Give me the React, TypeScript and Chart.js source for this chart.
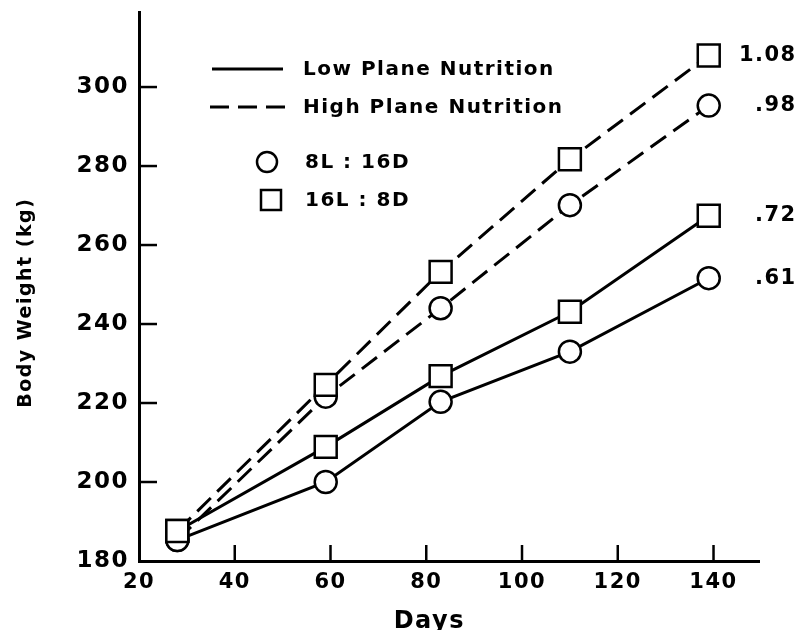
import React, { useEffect, useRef } from 'react';
import { Chart, registerables } from 'chart.js';

Chart.register(...registerables);

const FONT = '"DejaVu Sans", sans-serif';
const SPACING = '1.5px';

// Data
const days = [28, 59, 83, 110, 139];
const highLong = [187.6, 224.6, 253.2, 281.7, 308.0]; // High plane, 16L:8D
const highShort = [185.3, 221.6, 244.0, 270.1, 295.3]; // High plane, 8L:16D
const lowLong = [187.6, 208.9, 226.8, 243.1, 267.4]; // Low plane, 16L:8D
const lowShort = [185.3, 200.0, 220.3, 233.0, 251.6]; // Low plane, 8L:16D
const endLabels = ['1.08', '.98', '.72', '.61'];

const xTicks = [20, 40, 60, 80, 100, 120, 140];
const yTicks = [180, 200, 220, 240, 260, 280, 300];

const legendLines = ['Low Plane Nutrition', 'High Plane Nutrition'];
const legendMarkers = ['8L : 16D', '16L : 8D'];

const toPts = (vals: number[]) => vals.map((v, i) => ({ x: days[i], y: v }));

const spacingPlugin = {
  id: 'spacing',
  beforeDraw(chart: any) {
    chart.ctx.letterSpacing = SPACING;
  },
};

const inwardTicks = {
  id: 'inwardTicks',
  afterDraw(chart: any) {
    const { ctx, chartArea, scales } = chart;
    ctx.save();
    ctx.strokeStyle = '#000';
    ctx.lineWidth = 2.5;
    scales.y.ticks.forEach((t: any) => {
      if (t.value === scales.y.min) return;
      const y = scales.y.getPixelForValue(t.value);
      ctx.beginPath();
      ctx.moveTo(chartArea.left, y);
      ctx.lineTo(chartArea.left + 18, y);
      ctx.stroke();
    });
    scales.x.ticks.forEach((t: any) => {
      if (t.value === scales.x.min) return;
      const x = scales.x.getPixelForValue(t.value);
      ctx.beginPath();
      ctx.moveTo(x, chartArea.bottom);
      ctx.lineTo(x, chartArea.bottom - 16);
      ctx.stroke();
    });
    ctx.restore();
  },
};

const legendPlugin = {
  id: 'customLegend',
  afterDraw(chart: any) {
    const { ctx, chartArea } = chart;
    const L = chartArea.left;
    const T = chartArea.top;
    ctx.save();
    ctx.letterSpacing = SPACING;
    ctx.fillStyle = '#000';
    ctx.strokeStyle = '#000';
    ctx.font = `bold 20px ${FONT}`;
    ctx.textBaseline = 'middle';
    ctx.textAlign = 'left';
    // line samples
    ctx.lineWidth = 3;
    ctx.setLineDash([]);
    ctx.beginPath();
    ctx.moveTo(L + 73, T + 57);
    ctx.lineTo(L + 144, T + 57);
    ctx.stroke();
    ctx.setLineDash([19, 9]);
    ctx.beginPath();
    ctx.moveTo(L + 71, T + 95);
    ctx.lineTo(L + 146, T + 95);
    ctx.stroke();
    ctx.setLineDash([]);
    ctx.fillText(legendLines[0], L + 164, T + 58);
    ctx.fillText(legendLines[1], L + 164, T + 96);
    // marker samples
    ctx.lineWidth = 2.5;
    ctx.fillStyle = '#fff';
    ctx.beginPath();
    ctx.arc(L + 128, T + 150, 10, 0, Math.PI * 2);
    ctx.fill();
    ctx.stroke();
    ctx.beginPath();
    ctx.rect(L + 122, T + 178, 20, 20);
    ctx.fill();
    ctx.stroke();
    ctx.fillStyle = '#000';
    ctx.fillText(legendMarkers[0], L + 166, T + 151);
    ctx.fillText(legendMarkers[1], L + 166, T + 189);
    ctx.restore();
  },
};

const endLabelPlugin = {
  id: 'endLabels',
  afterDraw(chart: any) {
    const { ctx } = chart;
    ctx.save();
    ctx.letterSpacing = SPACING;
    ctx.fillStyle = '#000';
    ctx.font = `bold 21px ${FONT}`;
    ctx.textBaseline = 'middle';
    ctx.textAlign = 'right';
    chart.data.datasets.forEach((_: any, i: number) => {
      const meta = chart.getDatasetMeta(i);
      const last = meta.data[meta.data.length - 1];
      ctx.fillText(endLabels[i], last.x + 88, last.y);
    });
    ctx.restore();
  },
};

export default function App() {
  const ref = useRef<HTMLCanvasElement>(null);
  useEffect(() => {
    document.body.style.margin = '0';
    const canvas = ref.current!;
    const common = {
      borderColor: '#000',
      borderWidth: 3,
      pointBackgroundColor: '#fff',
      pointBorderColor: '#000',
      pointBorderWidth: 2.5,
      fill: false,
      tension: 0,
      clip: false as any,
    };
    const chart = new Chart(canvas, {
      type: 'line',
      data: {
        datasets: [
          { ...common, label: 'High 16L:8D', data: toPts(highLong), borderDash: [19, 9], pointStyle: 'rect', pointRadius: 15.5 },
          { ...common, label: 'High 8L:16D', data: toPts(highShort), borderDash: [19, 9], pointStyle: 'circle', pointRadius: 11 },
          { ...common, label: 'Low 16L:8D', data: toPts(lowLong), pointStyle: 'rect', pointRadius: 15.5 },
          { ...common, label: 'Low 8L:16D', data: toPts(lowShort), pointStyle: 'circle', pointRadius: 11 },
        ] as any,
      },
      options: {
        animation: false,
        responsive: false,
        devicePixelRatio: 1,
        events: [],
        layout: { autoPadding: false, padding: { top: 12, right: 39, left: 0, bottom: 0 } },
        plugins: { legend: { display: false }, tooltip: { enabled: false } },
        scales: {
          x: {
            type: 'linear',
            min: 20,
            max: 149.5,
            afterBuildTicks: (s: any) => {
              s.ticks = xTicks.map((v) => ({ value: v }));
            },
            afterFit: (s: any) => {
              s.height = 69;
              s.paddingLeft = 0;
              s.paddingRight = 0;
            },
            grid: { display: false, drawTicks: false },
            border: { display: true, width: 3, color: '#000' },
            ticks: { color: '#000', font: { family: FONT, size: 21, weight: 'bold' }, padding: 9, maxRotation: 0, autoSkip: false },
            title: {
              display: true,
              text: 'Days    ',
              color: '#000',
              font: { family: FONT, size: 24, weight: 'bold' },
              padding: { top: 0, bottom: -6 },
            },
          },
          y: {
            type: 'linear',
            min: 180,
            max: 319,
            afterBuildTicks: (s: any) => {
              s.ticks = yTicks.map((v) => ({ value: v }));
            },
            afterFit: (s: any) => {
              s.width = 139;
              s.paddingTop = 0;
              s.paddingBottom = 0;
            },
            grid: { display: false, drawTicks: false },
            border: { display: true, width: 3, color: '#000' },
            ticks: { color: '#000', font: { family: FONT, size: 23, weight: 'bold' }, padding: 10, autoSkip: false },
            title: {
              display: true,
              text: 'Body Weight (kg)    ',
              color: '#000',
              font: { family: FONT, size: 19, weight: 'bold' },
              padding: { top: 15, bottom: 0 },
            },
          },
        },
      } as any,
      plugins: [spacingPlugin, inwardTicks, legendPlugin, endLabelPlugin],
    });
    return () => chart.destroy();
  }, []);
  return <canvas ref={ref} width={798} height={630} style={{ display: 'block' }} />;
}
